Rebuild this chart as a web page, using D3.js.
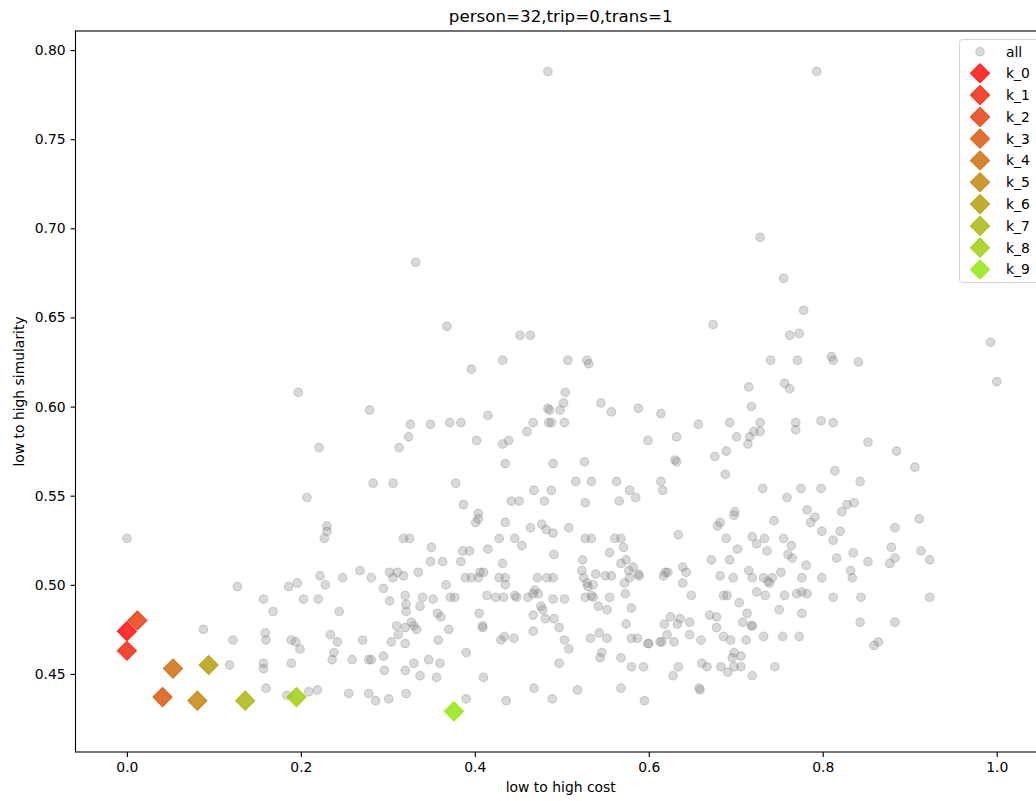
<!DOCTYPE html>
<html>
<head>
<meta charset="utf-8">
<script src="https://cdn.jsdelivr.net/npm/d3@7"></script>
<style>
  body { margin: 0; background: #fff; }
  text { font-family: "DejaVu Sans", sans-serif; fill: #000; }
</style>
</head>
<body>
<div id="chart"></div>
<script>
// gray "all" points: [cost, similarity]
var allPoints = [
  [0.484,0.788],[0.793,0.788],[0.332,0.681],[0.728,0.695],[0.755,0.672],[0.778,0.654],[0.674,0.646],[0.368,0.645],
  [0.452,0.640],[0.464,0.640],[0.432,0.626],[0.396,0.621],[0.197,0.608],[0.279,0.598],[0.415,0.595],[0.484,0.599],[0.486,0.598],
  [0.326,0.590],[0.349,0.590],[0.371,0.591],[0.384,0.591],[0.467,0.591],[0.485,0.591],[0.488,0.591],[0.460,0.586],[0.324,0.583],
  [0.402,0.581],[0.432,0.579],[0.439,0.581],[0.221,0.577],[0.313,0.577],[0.435,0.568],[0.490,0.568],[0.283,0.557],[0.306,0.557],
  [0.378,0.557],[0.468,0.553],[0.488,0.553],[0.207,0.549],[0.387,0.545],[0.442,0.547],[0.451,0.547],[0.480,0.547],[0.404,0.540],
  [0.404,0.537],[0.401,0.535],[0.435,0.535],[0.230,0.533],[0.230,0.530],[0.227,0.526],[0.464,0.532],[0.477,0.534],[0.482,0.531],
  [0.490,0.529],[0.000,0.526],[0.318,0.526],[0.325,0.526],[0.428,0.526],[0.446,0.526],[0.454,0.522],[0.350,0.521],[0.386,0.519],
  [0.394,0.519],[0.415,0.520],[0.491,0.517],[0.349,0.513],[0.363,0.513],[0.384,0.513],[0.432,0.512],[0.222,0.505],[0.248,0.504],
  [0.268,0.508],[0.281,0.504],[0.302,0.507],[0.306,0.504],[0.311,0.507],[0.318,0.505],[0.335,0.507],[0.389,0.504],[0.396,0.504],
  [0.404,0.504],[0.406,0.507],[0.410,0.507],[0.428,0.504],[0.435,0.504],[0.472,0.504],[0.483,0.504],[0.490,0.504],[0.127,0.499],
  [0.186,0.499],[0.196,0.501],[0.228,0.500],[0.295,0.498],[0.367,0.500],[0.435,0.500],[0.469,0.497],
  [0.762,0.640],[0.773,0.641],[0.993,0.636],[1.000,0.614],[0.507,0.626],[0.529,0.626],[0.531,0.624],[0.740,0.626],[0.771,0.626],
  [0.810,0.628],[0.812,0.626],[0.841,0.625],[0.504,0.608],[0.502,0.602],[0.498,0.598],[0.545,0.602],[0.557,0.597],[0.588,0.599],
  [0.614,0.596],[0.715,0.611],[0.756,0.613],[0.762,0.610],[0.718,0.600],[0.503,0.591],[0.657,0.590],[0.693,0.591],[0.728,0.591],
  [0.721,0.586],[0.728,0.586],[0.716,0.583],[0.714,0.579],[0.701,0.583],[0.769,0.591],[0.769,0.587],[0.798,0.592],[0.812,0.591],
  [0.599,0.581],[0.632,0.583],[0.689,0.575],[0.676,0.572],[0.852,0.580],[0.885,0.575],[0.526,0.569],[0.630,0.570],[0.632,0.569],
  [0.688,0.562],[0.814,0.564],[0.906,0.566],[0.516,0.558],[0.534,0.558],[0.563,0.558],[0.578,0.553],[0.585,0.549],[0.614,0.558],
  [0.616,0.553],[0.527,0.546],[0.566,0.547],[0.731,0.554],[0.775,0.554],[0.798,0.554],[0.843,0.558],[0.759,0.549],[0.699,0.541],
  [0.698,0.539],[0.782,0.542],[0.828,0.545],[0.836,0.546],[0.822,0.541],[0.682,0.535],[0.679,0.533],[0.744,0.536],[0.791,0.538],
  [0.786,0.535],[0.911,0.537],[0.883,0.532],[0.799,0.530],[0.820,0.530],[0.812,0.525],[0.508,0.532],[0.527,0.526],[0.534,0.526],
  [0.561,0.526],[0.568,0.526],[0.571,0.521],[0.634,0.528],[0.689,0.526],[0.719,0.527],[0.724,0.523],[0.733,0.526],[0.755,0.526],
  [0.764,0.522],[0.702,0.520],[0.736,0.519],[0.555,0.518],[0.524,0.514],[0.574,0.514],[0.568,0.512],[0.582,0.510],[0.577,0.508],
  [0.760,0.517],[0.765,0.515],[0.879,0.521],[0.913,0.519],[0.835,0.518],[0.816,0.515],[0.852,0.513],[0.883,0.515],[0.877,0.512],
  [0.923,0.514],[0.672,0.514],[0.693,0.514],[0.781,0.511],[0.832,0.508],[0.834,0.504],[0.799,0.504],[0.776,0.504],[0.752,0.507],
  [0.715,0.508],[0.719,0.504],[0.732,0.504],[0.737,0.502],[0.739,0.501],[0.742,0.504],[0.682,0.505],[0.697,0.504],[0.639,0.510],
  [0.643,0.507],[0.639,0.501],[0.617,0.505],[0.622,0.507],[0.619,0.507],[0.588,0.506],[0.589,0.505],[0.523,0.508],[0.525,0.504],
  [0.529,0.501],[0.536,0.500],[0.530,0.499],[0.539,0.506],[0.550,0.505],[0.557,0.505],[0.572,0.501],[0.578,0.504],
  [0.157,0.492],[0.203,0.492],[0.220,0.492],[0.168,0.485],[0.244,0.485],[0.302,0.491],[0.088,0.475],[0.122,0.469],[0.159,0.473],
  [0.160,0.469],[0.189,0.469],[0.194,0.468],[0.199,0.464],[0.234,0.472],[0.242,0.468],[0.271,0.469],[0.310,0.477],[0.312,0.472],
  [0.304,0.468],[0.118,0.455],[0.157,0.456],[0.157,0.453],[0.189,0.456],[0.238,0.462],[0.236,0.458],[0.259,0.458],[0.278,0.458],
  [0.281,0.458],[0.295,0.460],[0.296,0.452],[0.160,0.442],[0.184,0.438],[0.209,0.440],[0.219,0.441],[0.255,0.439],[0.278,0.439],
  [0.286,0.435],[0.301,0.436],
  [0.320,0.494],[0.340,0.493],[0.352,0.492],[0.372,0.493],[0.377,0.493],[0.414,0.494],[0.424,0.493],[0.433,0.493],[0.446,0.494],
  [0.448,0.493],[0.461,0.493],[0.467,0.495],[0.473,0.495],[0.490,0.492],[0.503,0.492],[0.527,0.493],[0.534,0.494],[0.536,0.493],
  [0.555,0.493],[0.573,0.495],[0.649,0.494],[0.321,0.489],[0.321,0.485],[0.337,0.488],[0.357,0.484],[0.361,0.482],[0.405,0.484],
  [0.467,0.483],[0.476,0.488],[0.478,0.486],[0.481,0.481],[0.491,0.481],[0.542,0.488],[0.552,0.486],[0.580,0.487],[0.574,0.478],
  [0.327,0.479],[0.330,0.477],[0.333,0.475],[0.320,0.476],[0.370,0.475],[0.409,0.477],[0.409,0.476],[0.467,0.474],[0.497,0.476],
  [0.320,0.467],[0.358,0.469],[0.430,0.469],[0.434,0.471],[0.445,0.470],[0.503,0.469],[0.508,0.464],[0.533,0.470],[0.543,0.473],
  [0.552,0.470],[0.580,0.470],[0.587,0.470],[0.599,0.467],[0.600,0.467],[0.613,0.468],[0.615,0.468],[0.629,0.468],[0.621,0.472],
  [0.647,0.472],[0.660,0.469],[0.618,0.478],[0.625,0.482],[0.633,0.478],[0.636,0.481],[0.647,0.479],[0.670,0.483],[0.678,0.482],
  [0.678,0.476],[0.390,0.462],[0.544,0.459],[0.546,0.462],[0.330,0.456],[0.320,0.452],[0.347,0.458],[0.360,0.456],[0.337,0.449],
  [0.356,0.448],[0.410,0.448],[0.497,0.456],[0.568,0.459],[0.580,0.454],[0.594,0.454],[0.634,0.454],[0.628,0.449],[0.661,0.456],
  [0.667,0.454],[0.321,0.439],[0.390,0.436],[0.436,0.435],[0.468,0.442],[0.489,0.436],[0.518,0.441],[0.568,0.442],[0.595,0.435],
  [0.658,0.442],[0.659,0.441],
  [0.686,0.494],[0.690,0.494],[0.724,0.496],[0.734,0.494],[0.756,0.494],[0.770,0.495],[0.776,0.496],[0.782,0.495],[0.812,0.493],
  [0.844,0.493],[0.923,0.493],[0.704,0.490],[0.713,0.484],[0.750,0.486],[0.776,0.484],[0.708,0.479],[0.718,0.477],[0.719,0.477],
  [0.843,0.479],[0.883,0.479],[0.686,0.471],[0.694,0.469],[0.712,0.469],[0.732,0.471],[0.754,0.471],[0.773,0.471],[0.859,0.466],
  [0.864,0.468],[0.698,0.462],[0.706,0.460],[0.696,0.459],[0.683,0.454],[0.691,0.451],[0.698,0.454],[0.706,0.454],[0.719,0.449],
  [0.745,0.454]
];

// the ten picked points k_0 .. k_9
var kLabels = ["k_0","k_1","k_2","k_3","k_4","k_5","k_6","k_7","k_8","k_9"];
var kCost = [0.000, 0.000, 0.012, 0.041, 0.053, 0.081, 0.094, 0.136, 0.195, 0.376];
var kSim  = [0.474, 0.463, 0.480, 0.437, 0.453, 0.435, 0.455, 0.435, 0.437, 0.429];

var xTicks = [0.0, 0.2, 0.4, 0.6, 0.8, 1.0];
var yTicks = [0.45, 0.50, 0.55, 0.60, 0.65, 0.70, 0.75, 0.80];

// red -> green colours for k markers
var kColors = ["rgb(255,0,0)","rgb(242,26,0)","rgb(230,51,0)","rgb(217,77,0)","rgb(204,102,0)",
               "rgb(191,128,0)","rgb(179,153,0)","rgb(166,179,0)","rgb(153,204,0)","rgb(140,230,0)"];

var svgWidth = 1036;
var svgHeight = 801;

// plot box (right edge falls just outside the picture)
var box = {left: 75.5, right: 1046, top: 31, bottom: 752};

var svg = d3.select("#chart")
    .append("svg")
    .attr("width", svgWidth)
    .attr("height", svgHeight);

var xScale = d3.scaleLinear()
    .domain([-0.0591, 1.0567])
    .range([box.left, box.right]);

var yScale = d3.scaleLinear()
    .domain([0.4062, 0.8107])
    .range([box.bottom, box.top]);

var bottomAxis = d3.axisBottom(xScale)
    .tickValues(xTicks)
    .tickFormat(d3.format(".1f"))
    .tickSize(4.9)
    .tickPadding(4.9);

var leftAxis = d3.axisLeft(yScale)
    .tickValues(yTicks)
    .tickFormat(d3.format(".2f"))
    .tickSize(4.9)
    .tickPadding(4.9);

var gx = svg.append("g")
    .attr("transform", `translate(0, ${box.bottom})`)
    .call(bottomAxis);
var gy = svg.append("g")
    .attr("transform", `translate(${box.left}, 0)`)
    .call(leftAxis);

[gx, gy].forEach(function(g) {
  g.select(".domain").remove();
  g.selectAll(".tick line").attr("stroke", "#000").attr("stroke-width", 1.1);
  g.selectAll(".tick text")
    .attr("font-family", "DejaVu Sans")
    .attr("font-size", "13.9px")
    .attr("fill", "#000");
});

// gray points
svg.append("g").selectAll("circle")
    .data(allPoints)
    .enter()
    .append("circle")
    .attr("cx", d => xScale(d[0]))
    .attr("cy", d => yScale(d[1]))
    .attr("r", 4.3)
    .attr("fill", "gray")
    .attr("fill-opacity", 0.3)
    .attr("stroke", "gray")
    .attr("stroke-opacity", 0.3)
    .attr("stroke-width", 1.2);

// diamonds
var diamond = d3.symbol().type(d3.symbolSquare).size(185);
svg.append("g").selectAll("path")
    .data(kLabels)
    .enter()
    .append("path")
    .attr("d", diamond)
    .attr("transform", (d, i) => `translate(${xScale(kCost[i])}, ${yScale(kSim[i])}) rotate(45)`)
    .attr("fill", (d, i) => kColors[i])
    .attr("fill-opacity", 0.8)
    .attr("stroke", (d, i) => kColors[i])
    .attr("stroke-opacity", 0.8)
    .attr("stroke-width", 1);

// frame
svg.append("rect")
    .attr("x", box.left)
    .attr("y", box.top)
    .attr("width", box.right - box.left)
    .attr("height", box.bottom - box.top)
    .attr("fill", "none")
    .attr("stroke", "#000")
    .attr("stroke-width", 1.1);

// legend
var legend = svg.append("g");
legend.append("rect")
    .attr("x", 959.5)
    .attr("y", 39.5)
    .attr("width", 84)
    .attr("height", 243)
    .attr("rx", 3)
    .attr("fill", "#fff")
    .attr("fill-opacity", 0.8)
    .attr("stroke", "#d6d6d6")
    .attr("stroke-width", 1);

legend.append("circle")
    .attr("cx", 980)
    .attr("cy", 51.7)
    .attr("r", 4.3)
    .attr("fill", "gray")
    .attr("fill-opacity", 0.3)
    .attr("stroke", "gray")
    .attr("stroke-opacity", 0.3)
    .attr("stroke-width", 1.2);
legend.append("text")
    .attr("x", 1006)
    .attr("y", 51.7)
    .attr("dy", "0.35em")
    .attr("font-size", "13.9px")
    .text("all");

kLabels.forEach(function(label, i) {
  var ly = 73.3 + i * 21.8;
  legend.append("path")
      .attr("d", diamond)
      .attr("transform", `translate(980, ${ly}) rotate(45)`)
      .attr("fill", kColors[i])
      .attr("fill-opacity", 0.8)
      .attr("stroke", kColors[i])
      .attr("stroke-opacity", 0.8)
      .attr("stroke-width", 1);
  legend.append("text")
      .attr("x", 1006)
      .attr("y", ly)
      .attr("dy", "0.35em")
      .attr("font-size", "13.9px")
      .text(label);
});

// title and axis labels
var midX = (box.left + box.right) / 2;
svg.append("text")
    .attr("x", midX)
    .attr("y", 22)
    .attr("text-anchor", "middle")
    .attr("font-size", "16.7px")
    .text("person=32,trip=0,trans=1");

svg.append("text")
    .attr("x", midX)
    .attr("y", 792)
    .attr("text-anchor", "middle")
    .attr("font-size", "13.9px")
    .text("low to high cost");

svg.append("text")
    .attr("transform", `translate(24, ${(box.top + box.bottom) / 2}) rotate(-90)`)
    .attr("text-anchor", "middle")
    .attr("font-size", "13.9px")
    .text("low to high simularity");
</script>
</body>
</html>
